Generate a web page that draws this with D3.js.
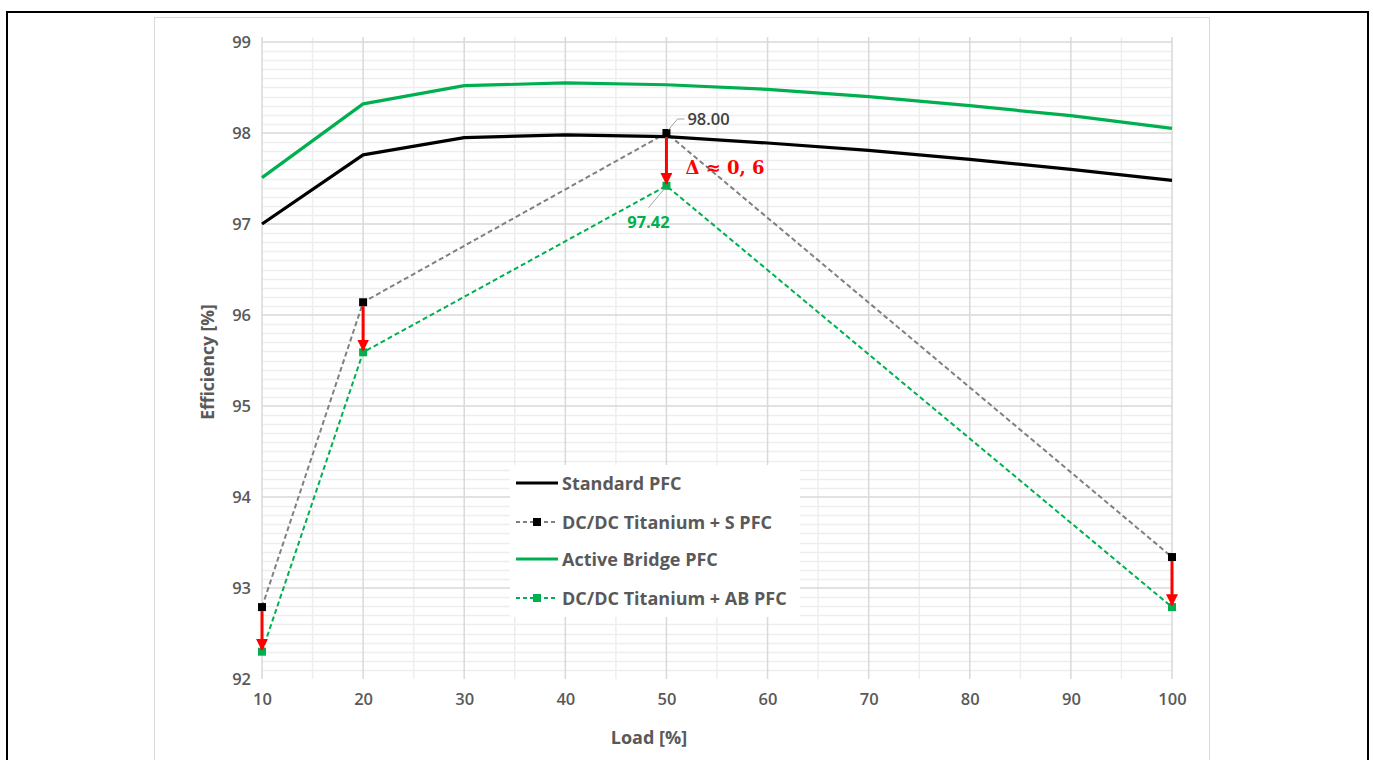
<!DOCTYPE html>
<html>
<head>
<meta charset="utf-8">
<script src="https://cdn.jsdelivr.net/npm/d3@7"></script>
<style>
  html, body { margin: 0; padding: 0; background: #fff; }
  svg { display: block; }
  text { font-family: "Open Sans", "Liberation Sans", sans-serif; }
</style>
</head>
<body>
<script>
// ---- Data ----
const loadFull = [10, 20, 30, 40, 50, 60, 70, 80, 90, 100];
const standardPFC = [97.00, 97.76, 97.95, 97.98, 97.96, 97.89, 97.81, 97.71, 97.60, 97.48];
const activeBridgePFC = [97.51, 98.32, 98.52, 98.55, 98.53, 98.48, 98.40, 98.30, 98.19, 98.05];
const loadDcdc = [10, 20, 50, 100];
const dcdcSPFC = [92.79, 96.14, 98.00, 93.34];
const dcdcABPFC = [92.30, 95.59, 97.42, 92.79];
const xTicks = [10, 20, 30, 40, 50, 60, 70, 80, 90, 100];
const yTicks = [92, 93, 94, 95, 96, 97, 98, 99];
const seriesNames = ["Standard PFC", "DC/DC Titanium + S PFC", "Active Bridge PFC", "DC/DC Titanium + AB PFC"];
const deltaLabel = "Δ ≈ 0, 6";

const W = 1373, H = 760;
const GREEN = "#00b050", GRAY = "#808080", RED = "#ff0000", TXT = "#595959";

const svg = d3.select("body").append("svg").attr("width", W).attr("height", H);

// outer frame
svg.append("rect").attr("x", 7).attr("y", 12).attr("width", 1361).attr("height", 800)
  .attr("fill", "#fff").attr("stroke", "#000").attr("stroke-width", 2);
// chart area
svg.append("rect").attr("x", 154.5).attr("y", 17.5).attr("width", 1055).attr("height", 800)
  .attr("fill", "#fff").attr("stroke", "#d9d9d9").attr("stroke-width", 1);

const x = d3.scaleLinear().domain([10, 100]).range([262, 1172]);
const y = d3.scaleLinear().domain([92, 99]).range([679, 42]);

// minor horizontal gridlines
const yMinor = d3.range(920, 991).map(v => v / 10).filter(v => Math.abs(v - Math.round(v)) > 1e-6);
svg.append("g").selectAll("line").data(yMinor).join("line")
  .attr("x1", x(10)).attr("x2", x(100))
  .attr("y1", d => Math.round(y(d)) + 0.5).attr("y2", d => Math.round(y(d)) + 0.5)
  .attr("stroke", "#eeeeee").attr("stroke-width", 1.5);
// minor vertical gridlines
const xMinor = d3.range(15, 100, 10);
svg.append("g").selectAll("line").data(xMinor).join("line")
  .attr("x1", d => x(d)).attr("x2", d => x(d))
  .attr("y1", y(99) - 5).attr("y2", y(92))
  .attr("stroke", "#eeeeee").attr("stroke-width", 1.5);
// major horizontal gridlines
svg.append("g").selectAll("line").data(yTicks.filter(d => d > 92)).join("line")
  .attr("x1", x(10)).attr("x2", x(100))
  .attr("y1", d => y(d)).attr("y2", d => y(d))
  .attr("stroke", "#d9d9d9").attr("stroke-width", 1.5);
// major vertical gridlines
svg.append("g").selectAll("line").data(xTicks).join("line")
  .attr("x1", d => x(d)).attr("x2", d => x(d))
  .attr("y1", y(99) - 5).attr("y2", y(92))
  .attr("stroke", "#d9d9d9").attr("stroke-width", 1.5);

// axes (labels only, via d3 axes)
const yAxis = svg.append("g").attr("transform", `translate(${x(10) - 8},0)`)
  .call(d3.axisLeft(y).tickValues(yTicks).tickSize(0).tickPadding(3).tickFormat(d3.format("d")));
yAxis.select(".domain").remove();
yAxis.selectAll("text").attr("fill", TXT).style("font-size", "16.5px").style("font-weight", 600)
  .style("font-family", '"Open Sans", sans-serif');

const xAxis = svg.append("g").attr("transform", `translate(0,${y(92) + 14})`)
  .call(d3.axisBottom(x).tickValues(xTicks).tickSize(0).tickPadding(0).tickFormat(d3.format("d")));
xAxis.select(".domain").remove();
xAxis.selectAll("text").attr("fill", TXT).style("font-size", "16.5px").style("font-weight", 600)
  .style("font-family", '"Open Sans", sans-serif');

// axis titles
svg.append("text").attr("transform", `translate(214,362) rotate(-90)`)
  .attr("text-anchor", "middle").attr("fill", TXT)
  .style("font-size", "17.5px").style("font-weight", 700).text("Efficiency [%]");
svg.append("text").attr("x", 649).attr("y", 744)
  .attr("text-anchor", "middle").attr("fill", TXT)
  .style("font-size", "18px").style("font-weight", 700).text("Load [%]");

// lines
const line = d3.line().x(d => x(d[0])).y(d => y(d[1]));
const zip = (a, b) => a.map((v, i) => [v, b[i]]);

svg.append("path").datum(zip(loadDcdc, dcdcSPFC)).attr("d", line)
  .attr("fill", "none").attr("stroke", GRAY).attr("stroke-width", 2).attr("stroke-dasharray", "5,3");
svg.append("path").datum(zip(loadDcdc, dcdcABPFC)).attr("d", line)
  .attr("fill", "none").attr("stroke", GREEN).attr("stroke-width", 2).attr("stroke-dasharray", "5,3");
svg.append("path").datum(zip(loadFull, standardPFC)).attr("d", line)
  .attr("fill", "none").attr("stroke", "#000").attr("stroke-width", 3.2).attr("stroke-linejoin", "round");
svg.append("path").datum(zip(loadFull, activeBridgePFC)).attr("d", line)
  .attr("fill", "none").attr("stroke", GREEN).attr("stroke-width", 3.2).attr("stroke-linejoin", "round");

// markers
const ms = 8;
svg.append("g").selectAll("rect").data(zip(loadDcdc, dcdcSPFC)).join("rect")
  .attr("x", d => x(d[0]) - ms / 2).attr("y", d => y(d[1]) - ms / 2)
  .attr("width", ms).attr("height", ms).attr("fill", "#000");
svg.append("g").selectAll("rect").data(zip(loadDcdc, dcdcABPFC)).join("rect")
  .attr("x", d => x(d[0]) - ms / 2).attr("y", d => y(d[1]) - ms / 2)
  .attr("width", ms).attr("height", ms).attr("fill", GREEN);

// red arrows
const defs = svg.append("defs");
defs.append("marker").attr("id", "arr").attr("viewBox", "0 0 10 10")
  .attr("refX", 9).attr("refY", 5).attr("markerWidth", 4).attr("markerHeight", 4)
  .attr("markerUnits", "strokeWidth").attr("orient", "auto")
  .append("path").attr("d", "M0,0 L10,5 L0,10 z").attr("fill", RED);
svg.append("g").selectAll("line").data(loadDcdc.map((l, i) => [l, dcdcSPFC[i], dcdcABPFC[i]])).join("line")
  .attr("x1", d => x(d[0])).attr("x2", d => x(d[0]))
  .attr("y1", d => y(d[1]) + ms / 2).attr("y2", d => y(d[2]) - 2)
  .attr("stroke", RED).attr("stroke-width", 3).attr("marker-end", "url(#arr)");

// data labels
const i50 = loadDcdc.indexOf(50);
const pS = [x(50), y(dcdcSPFC[i50])], pA = [x(50), y(dcdcABPFC[i50])];
svg.append("polyline")
  .attr("points", `${pS[0] + 2},${pS[1] - 3} ${pS[0] + 11},${pS[1] - 14} ${pS[0] + 18},${pS[1] - 14}`)
  .attr("fill", "none").attr("stroke", "#a6a6a6").attr("stroke-width", 1);
svg.append("text").attr("x", pS[0] + 21).attr("y", pS[1] - 8)
  .attr("fill", "#404040").style("font-size", "16.5px").style("font-weight", 600)
  .text(d3.format(".2f")(dcdcSPFC[i50]));
svg.append("line").attr("x1", pA[0] - 2).attr("y1", pA[1] + 3).attr("x2", pA[0] - 18).attr("y2", pA[1] + 22)
  .attr("stroke", "#a6a6a6").attr("stroke-width", 1);
svg.append("text").attr("x", pA[0] - 18).attr("y", pA[1] + 42).attr("text-anchor", "middle")
  .attr("fill", GREEN).style("font-size", "16.5px").style("font-weight", 700)
  .text(d3.format(".2f")(dcdcABPFC[i50]));
svg.append("text").attr("x", pS[0] + 19).attr("y", pS[1] + 41)
  .attr("fill", RED).style("font-family", '"DejaVu Serif", "Liberation Serif", serif')
  .style("font-size", "18px").style("font-weight", 700).text(deltaLabel);

// legend
const lg = svg.append("g").attr("transform", "translate(510,465)");
lg.append("rect").attr("width", 290).attr("height", 152).attr("fill", "#fff");
const legendStyles = [
  { color: "#000", dash: null, width: 3.2, marker: null },
  { color: GRAY, dash: "4,3", width: 2, marker: "#000" },
  { color: GREEN, dash: null, width: 3.2, marker: null },
  { color: GREEN, dash: "4,3", width: 2, marker: GREEN }
];
const rowY = [18, 57, 94, 133];
seriesNames.forEach((name, i) => {
  const st = legendStyles[i];
  const g = lg.append("g").attr("transform", `translate(0,${rowY[i]})`);
  g.append("line").attr("x1", 6).attr("x2", 48).attr("y1", 0).attr("y2", 0)
    .attr("stroke", st.color).attr("stroke-width", st.width)
    .attr("stroke-dasharray", st.dash);
  if (st.marker) {
    g.append("rect").attr("x", 27 - ms / 2).attr("y", -ms / 2).attr("width", ms).attr("height", ms)
      .attr("fill", st.marker);
  }
  g.append("text").attr("x", 52).attr("y", 6.5).attr("fill", TXT)
    .style("font-size", "18px").style("font-weight", 700).text(name);
});
</script>
</body>
</html>
